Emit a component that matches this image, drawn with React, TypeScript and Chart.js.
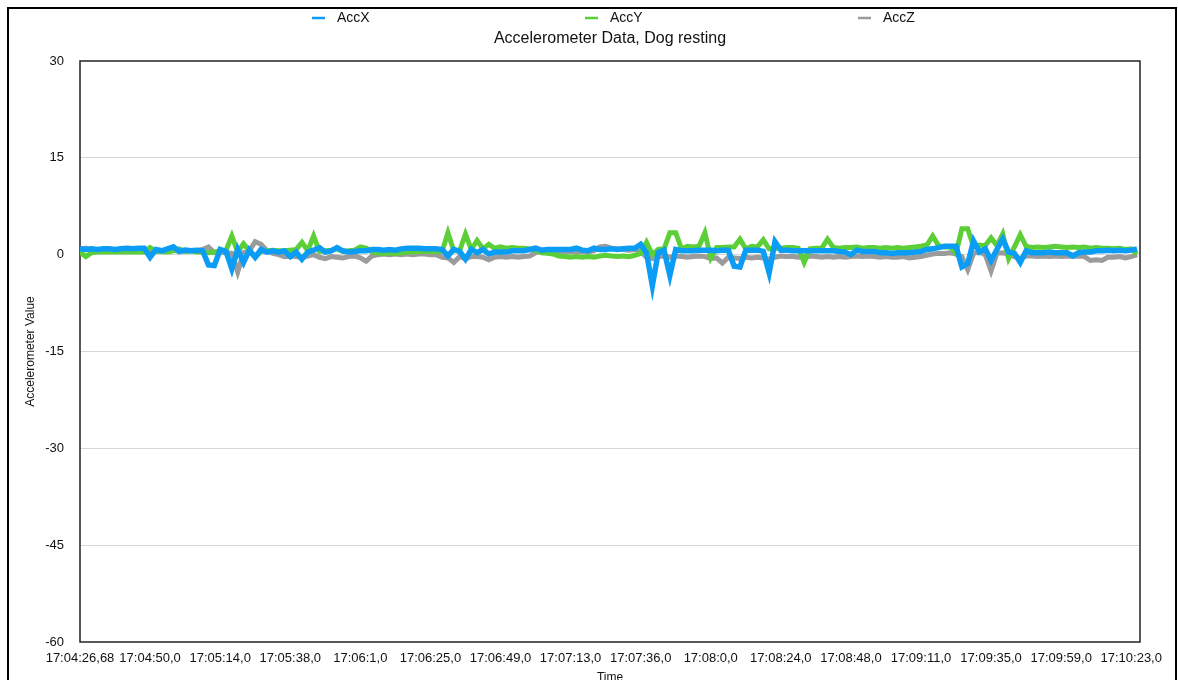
import { useEffect, useRef } from "react";
import { Chart, registerables } from "chart.js";

Chart.register(...registerables);

const FONT = "'Liberation Sans', Arial, Helvetica, sans-serif";

const chartTitle = "Accelerometer Data, Dog resting";
const xAxisTitle = "Time";
const yAxisTitle = "Accelerometer Value";

const seriesNames = ["AccX", "AccY", "AccZ"];
const seriesColors = ["#0b9df6", "#5ccf38", "#9b9b9b"];

// one x label every 12 samples
const pointsPerLabel = 12;
const tickLabels = [
  "17:04:26,68", "17:04:50,0", "17:05:14,0", "17:05:38,0", "17:06:1,0", "17:06:25,0",
  "17:06:49,0", "17:07:13,0", "17:07:36,0", "17:08:0,0", "17:08:24,0", "17:08:48,0",
  "17:09:11,0", "17:09:35,0", "17:09:59,0", "17:10:23,0",
];

const yMin = -60;
const yMax = 30;
const yStep = 15;

const accX = [
  0.9, 0.8, 0.9, 0.8, 0.9, 0.9, 0.8, 0.9, 1.0, 0.9, 1.0, 1.0,
  -0.4, 0.8, 0.6, 0.9, 1.2, 0.5, 0.7, 0.6, 0.7, 0.6, -1.6, -1.7,
  0.8, 0.5, -2.2, 0.8, -1.2, 0.7, -0.4, 0.8, 0.4, 0.6, 0.4, 0.6,
  -0.3, 0.4, -0.7, 0.4, 0.7, 1.1, 0.4, 0.6, 1.1, 0.6,
  0.4, 0.5, 0.6, 0.6, 0.8, 0.8, 0.7, 0.8, 0.7, 0.9, 1.0, 1.0,
  1.0, 0.9, 0.9, 0.9, 0.8, -0.2, 0.8, 0.5, -0.7, 0.8, 0.3, 0.8,
  0.1, 0.4, 0.4, 0.4, 0.6, 0.6, 0.6, 0.8, 1.0, 0.7, 0.8, 0.8,
  0.8, 0.8, 0.8, 1.0, 0.7, 0.6, 1.0, 0.8, 0.8, 0.9, 0.8, 0.9,
  1.0, 1.0, 1.6, 0.3, -4.8, 0.3, 0.7, -3.2, 0.8, 0.6, 0.6, 0.6,
  0.7, 0.7, 0.7, 0.6, 0.7, 0.7, -1.8, -1.9, 0.7, 0.7, 0.7, 0.5,
  -2.8, 2.0, 0.7, 0.7, 0.6, 0.6, 0.6, 0.6, 0.6, 0.6, 0.6, 0.6,
  0.5, 0.4, 0.0, 0.7, 0.5, 0.5, 0.5, 0.3, 0.3, 0.2, 0.3, 0.3,
  0.3, 0.4, 0.5, 0.8, 0.9, 1.1, 1.3, 1.3, 1.3, -1.9, -1.4, 2.1,
  0.4, 0.9, -0.9, 0.8, 2.4, 0.4, 0.2, -1.2, 0.6, 0.3, 0.3, 0.3,
  0.4, 0.3, 0.3, 0.3, -0.2, 0.3, 0.4, 0.4, 0.6, 0.6, 0.7, 0.6,
  0.7, 0.6, 0.7, 0.9,
];

const accY = [
  0.4, -0.3, 0.3, 0.4, 0.4, 0.4, 0.4, 0.4, 0.4, 0.4, 0.4, 0.4,
  1.1, 0.5, 0.5, 0.4, 0.6, 0.9, 0.5, 0.6, 0.4, 0.4, 0.3, 0.4,
  0.6, 0.7, 2.9, 0.4, 1.7, 0.6, -0.4, 0.5, 0.6, 0.7, 0.6, 0.6,
  0.7, 0.8, 1.9, 0.6, 2.9, 0.5, 0.6, 0.7, 0.9, 0.5,
  0.6, 0.7, 1.2, 1.0, 0.4, 0.3, 0.2, 0.3, 0.2, 0.3, 0.4, 0.4,
  0.5, 0.5, 0.5, 0.5, 0.5, 3.4, 0.6, 0.6, 3.2, 0.8, 2.2, 0.9,
  1.6, 1.0, 1.2, 1.0, 1.1, 1.0, 1.0, 0.9, 0.7, 0.3, 0.2, 0.1,
  -0.2, -0.3, -0.4, -0.3, -0.4, -0.3, -0.4, -0.2, -0.1, -0.2, -0.3, -0.2,
  -0.3, -0.1, 0.2, 1.9, 0.0, 0.8, 0.9, 3.4, 3.4, 0.9, 1.3, 1.2,
  1.3, 3.4, -0.5, 1.1, 1.1, 1.2, 1.2, 2.4, 0.9, 1.3, 1.2, 2.3,
  0.9, 1.0, 1.0, 1.1, 1.1, 1.0, -1.2, 0.9, 1.0, 1.0, 2.4, 1.1,
  1.0, 1.1, 1.1, 1.2, 1.0, 1.1, 1.1, 1.0, 1.1, 1.0, 1.1, 1.0,
  1.1, 1.2, 1.3, 1.5, 2.9, 1.4, 1.2, 1.2, 0.2, 4.0, 4.0, 1.2,
  1.5, 1.4, 2.6, 1.4, 3.2, -0.6, 1.2, 3.1, 1.3, 1.1, 1.2, 1.1,
  1.2, 1.3, 1.2, 1.1, 1.2, 1.1, 1.2, 1.0, 1.1, 1.0, 1.0, 0.9,
  1.0, 0.8, 0.9, 0.1,
];

const accZ = [
  0.8, 1.0, 0.7, 0.6, 0.6, 0.6, 0.6, 0.6, 0.6, 0.6, 0.6, 0.6,
  0.3, 0.6, 0.5, 0.5, 0.7, 0.5, 0.6, 0.6, 0.6, 0.8, 1.2, 0.3,
  0.4, 0.3, 0.2, -2.7, 0.3, 0.6, 2.0, 1.6, 0.6, 0.2, 0.0, -0.3,
  -0.2, -0.3, -0.4, -0.2, 0.0, -0.4, -0.6, -0.3, -0.4, -0.5,
  -0.3, -0.2, -0.5, -1.0, -0.2, 0.0, 0.1, 0.0, 0.1, 0.0, 0.1, 0.0,
  0.1, 0.1, 0.0, 0.0, -0.4, -0.5, -1.2, -0.3, -0.6, -0.3, -0.3, -0.4,
  -0.8, -0.4, -0.3, -0.4, -0.3, -0.4, -0.3, -0.2, 0.3, 0.6, 0.5, 0.5,
  0.5, 0.4, 0.5, 0.4, 0.5, 0.4, 0.6, 1.2, 1.3, 1.0, 0.9, 0.8,
  0.7, 0.8, 0.5, -0.4, -0.6, -0.3, -0.2, -0.4, -0.2, -0.3, -0.4, -0.3,
  -0.2, -0.3, -0.6, -0.5, -1.3, -0.4, -0.5, -0.6, -0.4, -0.5, -0.4, -0.5,
  -0.7, -0.4, -0.2, -0.3, -0.3, -0.4, -0.3, -0.2, -0.3, -0.4, -0.3, -0.4,
  -0.3, -0.4, -0.3, -0.2, -0.3, -0.2, -0.3, -0.4, -0.3, -0.4, -0.4, -0.3,
  -0.5, -0.4, -0.3, -0.1, 0.1, 0.2, 0.2, 0.3, 0.1, -0.3, -2.3, 0.2,
  0.4, 0.0, -2.5, 0.2, 0.3, 0.0, -0.3, -0.6, -0.2, -0.2, -0.3, -0.2,
  -0.3, -0.2, -0.3, -0.2, -0.3, -0.2, -0.3, -0.9, -0.8, -0.9, -0.4, -0.4,
  -0.3, -0.5, -0.3, 0.0,
];

const seriesValues = [accX, accY, accZ];
const seriesWidths = [5.5, 5, 5];

const overlayPlugin = {
  id: "overlay",
  beforeDatasetsDraw(chart: any) {
    const { ctx, chartArea: a } = chart;
    ctx.save();
    ctx.strokeStyle = "#222";
    ctx.lineWidth = 1.5;
    ctx.strokeRect(a.left, a.top, a.right - a.left, a.bottom - a.top);
    ctx.restore();
  },
  afterDraw(chart: any) {
    const { ctx, chartArea: a } = chart;
    const cx = (a.left + a.right) / 2;
    ctx.save();
    ctx.fillStyle = "#111";
    ctx.textBaseline = "middle";
    ctx.textAlign = "center";
    ctx.font = `16px ${FONT}`;
    ctx.fillText(chartTitle, cx, 30);
    ctx.font = `14px ${FONT}`;
    ctx.textAlign = "left";
    const offs = [-298, -25, 248];
    seriesNames.forEach((name, i) => {
      const x = cx + offs[i];
      ctx.strokeStyle = seriesColors[i];
      ctx.lineWidth = 2.5;
      ctx.beginPath();
      ctx.moveTo(x, 9);
      ctx.lineTo(x + 13, 9);
      ctx.stroke();
      ctx.fillStyle = "#111";
      ctx.fillText(name, x + 25, 9);
    });
    ctx.restore();
  },
};

export default function App() {
  const ref = useRef<HTMLCanvasElement | null>(null);

  useEffect(() => {
    if (!ref.current) return;
    const datasets = seriesNames.map((name, i) => ({
      label: name,
      data: seriesValues[i].map((v, j) => ({ x: j, y: v })),
      borderColor: seriesColors[i],
      backgroundColor: seriesColors[i],
      borderWidth: seriesWidths[i],
      pointRadius: 0,
      tension: 0,
      fill: false,
      borderJoinStyle: "miter" as const,
    }));
    const maxX = (tickLabels.length - 1) * pointsPerLabel + 1.5;
    const chart = new Chart(ref.current, {
      type: "line",
      data: { datasets },
      plugins: [overlayPlugin],
      options: {
        responsive: true,
        maintainAspectRatio: false,
        animation: false,
        layout: { padding: { top: 52, left: 0, right: 35, bottom: 24 } },
        plugins: {
          legend: { display: false },
          title: { display: false },
          tooltip: { enabled: false },
        },
        scales: {
          x: {
            type: "linear",
            min: 0,
            max: maxX,
            afterFit: (s: any) => {
              s.height = 43;
            },
            grid: { display: false },
            border: { display: false },
            ticks: {
              stepSize: pointsPerLabel,
              includeBounds: false,
              autoSkip: false,
              maxRotation: 0,
              minRotation: 0,
              padding: 1,
              color: "#111",
              font: { family: FONT, size: 13 },
              callback: (v: any) => {
                const k = Math.round(Number(v) / pointsPerLabel);
                return tickLabels[k] ?? "";
              },
            },
            title: {
              display: true,
              text: xAxisTitle,
              color: "#111",
              font: { family: FONT, size: 12 },
              padding: { top: 0, bottom: 0 },
            },
          },
          y: {
            min: yMin,
            max: yMax,
            afterFit: (s: any) => {
              s.width = 71;
            },
            border: { display: false },
            grid: {
              drawTicks: false,
              lineWidth: 1,
              color: (c: any) =>
                c.tick && (c.tick.value === yMax || c.tick.value === yMin)
                  ? "rgba(0,0,0,0)"
                  : "#d6d6d6",
            },
            ticks: {
              stepSize: yStep,
              padding: 16,
              color: "#111",
              font: { family: FONT, size: 13 },
            },
            title: {
              display: true,
              text: yAxisTitle,
              color: "#111",
              font: { family: FONT, size: 12 },
              padding: { top: 14, bottom: 0 },
            },
          },
        },
      },
    });
    return () => chart.destroy();
  }, []);

  return (
    <div
      style={{
        position: "fixed",
        left: 7,
        top: 7,
        width: 1166,
        height: 700,
        border: "2px solid #000",
        background: "#fff",
      }}
    >
      <div style={{ position: "relative", width: 1166, height: 700 }}>
        <canvas ref={ref} />
      </div>
    </div>
  );
}
